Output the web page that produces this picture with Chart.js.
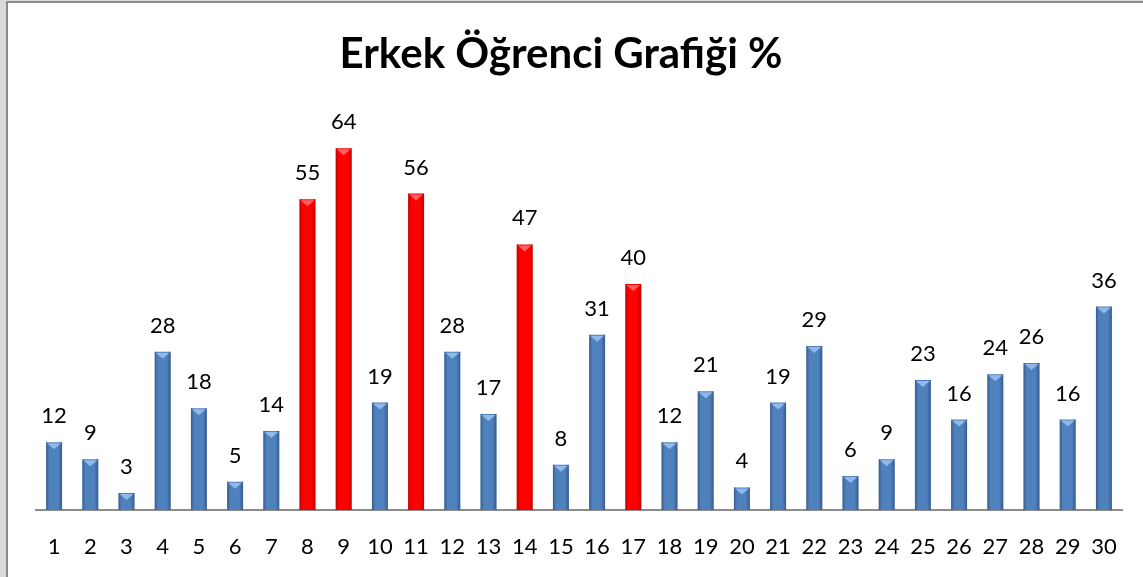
<!DOCTYPE html>
<html>
<head>
<meta charset="utf-8">
<script src="https://cdn.jsdelivr.net/npm/chart.js@4"></script>
<style>
  html, body { margin: 0; padding: 0; background: #fff; }
  #wrap { width: 1143px; height: 577px; }
</style>
</head>
<body>
<div id="wrap"><canvas id="chart" width="1143" height="577"></canvas></div>
<script>
const labels = ["1","2","3","4","5","6","7","8","9","10","11","12","13","14","15",
  "16","17","18","19","20","21","22","23","24","25","26","27","28","29","30"];
const values = [12, 9, 3, 28, 18, 5, 14, 55, 64, 19, 56, 28, 17, 47, 8,
  31, 40, 12, 21, 4, 19, 29, 6, 9, 23, 16, 24, 26, 16, 36];
// red ones are the high ones (40 and up)
const highLimit = 40;
const title = "Erkek Öğrenci Grafiği %";

const FONT = "Lato, 'Open Sans', sans-serif";

const isHigh = (v) => v >= highLimit;

// frame around the chart (light grey strip + dark line on left/top)
const framePlugin = {
  id: "frame",
  beforeDraw(chart) {
    const ctx = chart.ctx;
    ctx.save();
    ctx.fillStyle = "#ffffff";
    ctx.fillRect(0, 0, chart.width, chart.height);
    ctx.fillStyle = "#d9d9d9";
    ctx.fillRect(0, 0, 6, chart.height);
    ctx.fillRect(0, 0, chart.width, 1);
    ctx.fillStyle = "#8a8a8a";
    ctx.fillRect(6, 1, 2, chart.height);
    ctx.fillRect(6, 1, chart.width, 2);
    ctx.restore();
  }
};

// shading on each bar so it looks like the excel bevel + value on top
const barDeco = {
  id: "barDeco",
  afterDatasetsDraw(chart) {
    const ctx = chart.ctx;
    const meta = chart.getDatasetMeta(0);
    ctx.save();
    meta.data.forEach((bar, i) => {
      const v = values[i];
      const left = bar.x - bar.width / 2;
      const w = bar.width;
      const top = bar.y;
      const h = bar.base - bar.y;
      const g = ctx.createLinearGradient(left, 0, left + w, 0);
      if (isHigh(v)) {
        g.addColorStop(0, "rgba(140,0,0,0.55)");
        g.addColorStop(0.2, "rgba(140,0,0,0.0)");
        g.addColorStop(0.75, "rgba(140,0,0,0.0)");
        g.addColorStop(1, "rgba(140,0,0,0.5)");
      } else {
        g.addColorStop(0, "rgba(30,55,95,0.5)");
        g.addColorStop(0.2, "rgba(30,55,95,0.0)");
        g.addColorStop(0.75, "rgba(30,55,95,0.0)");
        g.addColorStop(1, "rgba(30,55,95,0.5)");
      }
      ctx.fillStyle = g;
      ctx.fillRect(left, top, w, h);
      // little light triangle at the top
      const tri = Math.min(6, h);
      ctx.beginPath();
      ctx.moveTo(left + 1, top + 1);
      ctx.lineTo(left + w - 1, top + 1);
      ctx.lineTo(left + w / 2, top + tri + 1);
      ctx.closePath();
      ctx.fillStyle = isHigh(v) ? "rgba(255,120,120,0.8)" : "rgba(150,190,240,0.9)";
      ctx.fill();

      ctx.fillStyle = "#000";
      ctx.font = "22px " + FONT;
      ctx.textAlign = "center";
      ctx.textBaseline = "alphabetic";
      ctx.fillText(String(v), bar.x, top - 19);
    });
    ctx.restore();
  }
};

new Chart(document.getElementById("chart"), {
  type: "bar",
  data: {
    labels: labels,
    datasets: [{
      data: values,
      backgroundColor: values.map(v => isHigh(v) ? "#ff0000" : "#4f81bd"),
      borderWidth: 0,
      categoryPercentage: 1,
      barPercentage: 0.44
    }]
  },
  options: {
    responsive: false,
    animation: false,
    events: [],
    layout: { padding: { left: 0, right: 21, top: 0, bottom: 0 } },
    plugins: {
      legend: { display: false },
      tooltip: { enabled: false },
      title: {
        display: true,
        text: title,
        color: "#000",
        font: { family: FONT, size: 42, weight: "bold", lineHeight: 1.2 },
        padding: { top: 29, bottom: 35 }
      }
    },
    scales: {
      x: {
        grid: { display: false, drawTicks: false },
        border: { display: true, color: "#8c8c8c", width: 2 },
        ticks: { color: "#000", font: { family: FONT, size: 22 }, padding: 24, maxRotation: 0, autoSkip: false },
        afterFit(scale) { scale.height = 67; }
      },
      y: {
        // invisible axis, only used to push the plot off the left edge
        display: true,
        min: 0,
        max: 70,
        grid: { display: false, drawTicks: false },
        border: { display: false },
        ticks: { display: false },
        afterFit(scale) { scale.width = 36; }
      }
    }
  },
  plugins: [framePlugin, barDeco]
});
</script>
</body>
</html>
